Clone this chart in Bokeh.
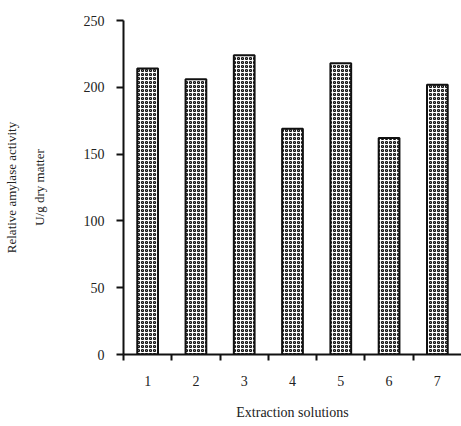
from bokeh.plotting import figure
from bokeh.models import LinearAxis, FixedTicker, Range1d, ColumnDataSource
from bokeh.embed import file_html
from bokeh.resources import INLINE

solutions = [1, 2, 3, 4, 5, 6, 7]
activity = [214, 206, 224, 169, 218, 162, 202]
y_ticks = [0, 50, 100, 150, 200, 250]
boundaries = [0.5, 1.5, 2.5, 3.5, 4.5, 5.5, 6.5]

FONT = "Liberation Serif"
INK = "#222222"

p = figure(width=461, height=426, output_backend="svg", toolbar_location=None,
           x_range=Range1d(0.5, 7.5), y_range=Range1d(0, 250),
           min_border_left=122, min_border_right=0, min_border_top=20, min_border_bottom=72,
           x_axis_location=None, y_axis_location=None)
p.outline_line_color = None
p.xgrid.visible = False
p.ygrid.visible = False
p.background_fill_color = "white"

src = ColumnDataSource(dict(x=solutions, top=activity))
p.vbar(x="x", top="top", width=0.43, bottom=0, source=src,
       fill_color="white", line_color="#111111", line_width=2,
       hatch_pattern="ring", hatch_color="#111111", hatch_scale=4, hatch_weight=1.2)

# main y axis
ya = LinearAxis(ticker=FixedTicker(ticks=y_ticks, minor_ticks=[]))
ya.axis_line_width = 2
ya.axis_line_color = "#111111"
ya.major_tick_in = 0
ya.major_tick_out = 7
ya.major_tick_line_width = 2
ya.major_tick_line_color = "#111111"
ya.major_label_text_font = FONT
ya.major_label_text_font_size = "14px"
ya.major_label_text_color = INK
ya.major_label_standoff = 12
p.add_layout(ya, "left")

# label axes
def label_axis(text, standoff):
    ax = LinearAxis(ticker=FixedTicker(ticks=[], minor_ticks=[]))
    ax.axis_line_color = None
    ax.major_tick_line_color = None
    ax.minor_tick_line_color = None
    ax.major_label_text_font_size = "0px"
    ax.axis_label = text
    ax.axis_label_text_font = FONT
    ax.axis_label_text_font_size = "13px"
    ax.axis_label_text_font_style = "normal"
    ax.axis_label_text_color = INK
    ax.axis_label_standoff = standoff
    return ax

p.add_layout(label_axis("U/g dry matter", 34), "left")
p.add_layout(label_axis("Relative amylase activity", 10), "left")

# x axis
xa = LinearAxis(ticker=FixedTicker(ticks=solutions, minor_ticks=boundaries))
xa.axis_line_width = 2
xa.axis_line_color = "#111111"
xa.major_tick_line_color = None
xa.minor_tick_in = 0
xa.minor_tick_out = 6
xa.minor_tick_line_width = 2
xa.minor_tick_line_color = "#111111"
xa.major_label_text_font = FONT
xa.major_label_text_font_size = "14px"
xa.major_label_text_color = INK
xa.major_label_standoff = 15
xa.axis_label = "Extraction solutions"
xa.axis_label_text_font = FONT
xa.axis_label_text_font_size = "14px"
xa.axis_label_text_font_style = "normal"
xa.axis_label_text_color = INK
xa.axis_label_standoff = 16
p.add_layout(xa, "below")

open("out.html", "w").write(file_html(p, INLINE))
